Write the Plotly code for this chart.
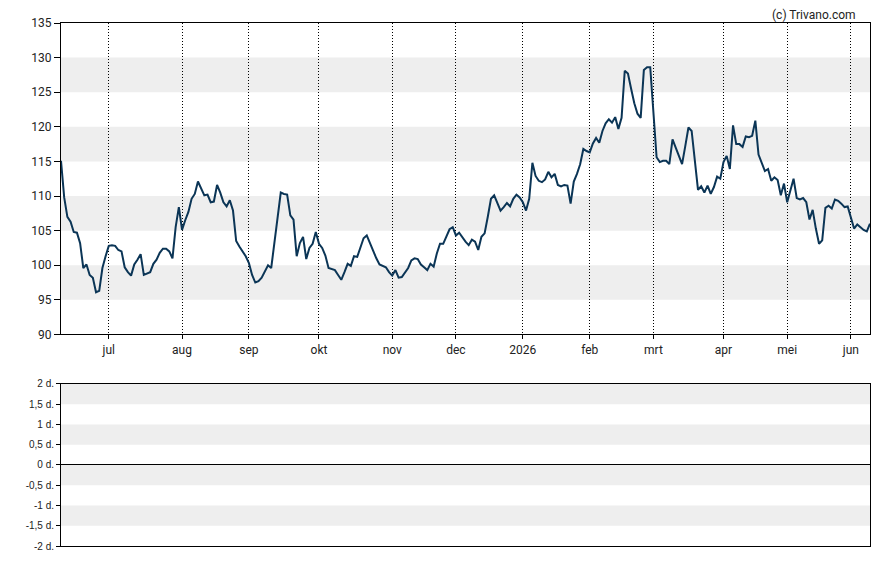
import pandas as pd
import plotly.graph_objects as go

# ---- data ----
holidays = ["2025-12-25", "2025-12-26", "2026-01-01", "2026-04-03", "2026-04-06", "2026-05-01"]
dates = [d.strftime("%Y-%m-%d") for d in pd.bdate_range("2025-06-10", "2026-06-09", freq="C", holidays=holidays)]

prices = [
    115.1, 109.8, 107.0, 106.3, 104.8, 104.7, 103.2, 99.6, 100.1, 98.6,
    98.2, 96.1, 96.3, 99.6, 101.3, 102.8, 102.9, 102.8, 102.2, 102.0,
    99.7, 99.0, 98.5, 100.1, 100.8, 101.6, 98.6, 98.8, 99.0, 100.2,
    100.8, 101.8, 102.4, 102.4, 102.0, 101.0, 105.5, 108.4, 105.1, 106.5,
    107.7, 109.6, 110.3, 112.1, 111.0, 110.1, 110.2, 109.1, 109.2, 111.6,
    110.5, 109.1, 108.5, 109.4, 107.9, 103.5, 102.7, 102.0, 101.3, 100.3,
    98.6, 97.5, 97.7, 98.2, 99.1, 100.0, 99.6, 103.5, 107.5, 110.5,
    110.3, 110.2, 107.2, 106.6, 101.3, 103.2, 104.1, 100.9, 102.5, 103.1,
    104.8, 103.1, 102.5, 101.4, 99.6, 99.5, 99.3, 98.6, 97.9, 99.0,
    100.2, 99.9, 101.3, 101.2, 102.7, 103.9, 104.3, 103.2, 102.0, 101.0,
    100.1, 99.9, 99.7, 99.0, 98.5, 99.3, 98.2, 98.3, 98.9, 99.6,
    100.7, 101.0, 100.9, 100.1, 99.7, 99.3, 100.2, 99.8, 101.7, 103.1,
    103.1, 104.2, 105.2, 105.5, 104.3, 104.7, 104.0, 103.4, 102.9, 103.7,
    103.4, 102.2, 104.1, 104.6, 107.0, 109.6, 110.1, 109.1, 107.9, 108.4,
    109.0, 108.5, 109.6, 110.2, 109.8, 109.1, 107.9, 109.6, 114.8, 112.9,
    112.2, 112.0, 112.4, 113.5, 112.7, 113.2, 111.6, 111.4, 111.6, 111.5,
    108.9, 112.1, 113.2, 114.6, 116.8, 116.5, 116.3, 117.6, 118.4, 117.7,
    119.4, 120.5, 121.1, 120.6, 121.4, 119.7, 121.3, 128.1, 127.7, 125.5,
    123.4, 121.9, 121.3, 128.2, 128.6, 128.6, 122.5, 115.6, 114.9, 115.1,
    115.1, 114.6, 118.2, 117.0, 115.5, 114.6, 117.2, 119.9, 119.4, 115.3,
    110.9, 111.4, 110.5, 111.5, 110.3, 111.3, 112.8, 112.5, 114.9, 115.8,
    113.9, 120.2, 117.5, 117.5, 117.1, 118.6, 118.5, 118.7, 120.9, 116.0,
    114.9, 113.6, 113.9, 112.2, 112.7, 112.3, 110.1, 111.8, 109.1, 110.8,
    112.5, 109.7, 109.5, 109.7, 109.1, 106.6, 108.0, 105.3, 103.1, 103.6,
    108.3, 108.6, 108.2, 109.5, 109.3, 108.9, 108.4, 108.5, 106.7, 105.3,
    105.9, 105.5, 105.1, 104.9, 106.0,
]

month_labels = ["jul", "aug", "sep", "okt", "nov", "dec", "2026", "feb", "mrt", "apr", "mei", "jun"]
price_ticks = [90, 95, 100, 105, 110, 115, 120, 125, 130, 135]
price_bands = [(95, 100), (105, 110), (115, 120), (125, 130)]
lower_ticks = [2, 1.5, 1, 0.5, 0, -0.5, -1, -1.5, -2]
lower_labels = ["2 d.", "1,5 d.", "1 d.", "0,5 d.", "0 d.", "-0,5 d.", "-1 d.", "-1,5 d.", "-2 d."]
lower_bands = [(1.5, 2), (0.5, 1), (-0.5, 0), (-1.5, -1)]

# first trading day of each month (Jul 2025 .. Jun 2026)
month_starts = []
seen = set()
for d in dates:
    ym = d[:7]
    if ym not in seen:
        seen.add(ym)
        if ym >= "2025-07":
            month_starts.append(d)

n = len(dates)
fig = go.Figure()
fig.add_trace(go.Scatter(x=dates, y=prices, mode="lines",
                         line=dict(color="#0b3556", width=2), hoverinfo="skip",
                         xaxis="x", yaxis="y", showlegend=False))
fig.add_trace(go.Scatter(x=[], y=[], mode="lines", xaxis="x2", yaxis="y2",
                         showlegend=False, hoverinfo="skip"))

shapes = []
for a, b in price_bands:
    shapes.append(dict(type="rect", xref="x domain", yref="y", x0=0, x1=1, y0=a, y1=b,
                       fillcolor="#eeeeee", line=dict(width=0), layer="below"))
for a, b in lower_bands:
    shapes.append(dict(type="rect", xref="x2 domain", yref="y2", x0=0, x1=1, y0=a, y1=b,
                       fillcolor="#eeeeee", line=dict(width=0), layer="below"))

tickfont = dict(family="Roboto", size=12, color="#222222")
fig.update_layout(
    width=888, height=565,
    margin=dict(l=61, r=18, t=23, b=13),
    paper_bgcolor="white", plot_bgcolor="white",
    shapes=shapes,
    xaxis=dict(type="category", range=[0, n - 1], anchor="y",
               tickmode="array", tickvals=month_starts, ticktext=month_labels,
               showgrid=True, gridcolor="black", gridwidth=1, griddash="1px,2px",
               ticks="outside", ticklen=4, tickcolor="black",
               showline=True, linecolor="black", linewidth=1, mirror=True,
               tickfont=tickfont, zeroline=False),
    yaxis=dict(domain=[0.4045, 1], range=[90, 135], anchor="x",
               tickmode="array", tickvals=price_ticks,
               showgrid=False, zeroline=False,
               ticks="outside", ticklen=6, tickcolor="black",
               showline=True, linecolor="black", linewidth=1, mirror=True,
               tickfont=tickfont),
    xaxis2=dict(range=[0, 1], anchor="y2", showticklabels=False, ticks="",
                showgrid=False, zeroline=False,
                showline=True, linecolor="black", linewidth=1, mirror=True),
    yaxis2=dict(domain=[0, 0.31], range=[-2, 2], anchor="x2",
                tickmode="array", tickvals=lower_ticks, ticktext=lower_labels,
                showgrid=False, zeroline=True, zerolinecolor="black", zerolinewidth=1,
                ticks="outside", ticklen=4, tickcolor="black",
                showline=True, linecolor="black", linewidth=1, mirror=True,
                tickfont=dict(family="Liberation Sans, Arial", size=10, color="#222222")),
    annotations=[dict(text="(c) Trivano.com", xref="paper", yref="paper",
                      x=1, y=1, xanchor="right", yanchor="bottom", yshift=-1, xshift=-12,
                      showarrow=False, font=dict(family="Roboto", size=12, color="#222222"))],
)

fig.write_html("out.html")
